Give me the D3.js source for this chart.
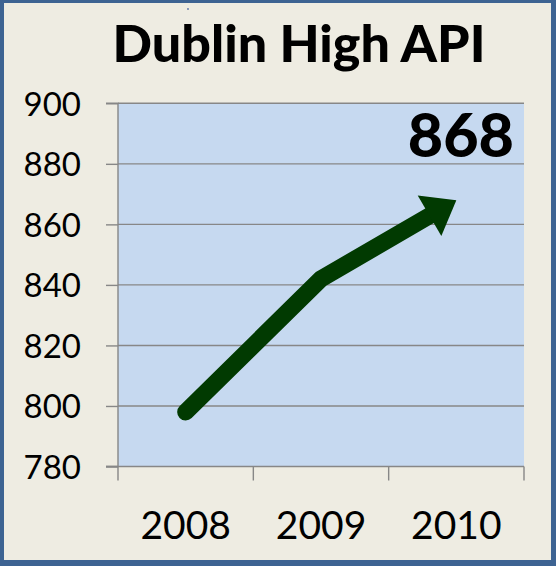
<!DOCTYPE html>
<html>
<head>
<meta charset="utf-8">
<script src="https://cdn.jsdelivr.net/npm/d3@7"></script>
<style>
  html, body { margin: 0; padding: 0; background: #ffffff; }
  svg { display: block; }
</style>
</head>
<body>
<svg id="chart" width="556" height="566"></svg>
<script>
// ---- data ----
const categories = ["2008", "2009", "2010"];
const apiValues = [798, 842, 868];
const yTicks = [780, 800, 820, 840, 860, 880, 900];
const titleText = "Dublin High API";
const calloutText = "868";

// ---- layout ----
const W = 556, H = 566;
const plot = { left: 118, right: 524, top: 103.3, bottom: 466.5 };
const font = "Lato, 'Open Sans', sans-serif";

const svg = d3.select("#chart");

// outer border + background
svg.append("rect").attr("x", 0).attr("y", 0).attr("width", W).attr("height", H).attr("fill", "#3d6392");
svg.append("rect").attr("x", 4).attr("y", 3).attr("width", 547).attr("height", 557).attr("fill", "#eeece2");
svg.append("circle").attr("cx", 188).attr("cy", 9).attr("r", 0.9).attr("fill", "#5a74a8");

// title
svg.append("text")
  .attr("x", 299).attr("y", 62)
  .attr("text-anchor", "middle")
  .attr("font-family", font).attr("font-weight", 900).attr("font-size", 52)
  .attr("fill", "#000")
  .text(titleText);

// scales
const x = d3.scaleBand().domain(categories).range([plot.left, plot.right]).padding(0);
const y = d3.scaleLinear().domain([780, 900]).range([plot.bottom, plot.top]);

// plot area
svg.append("rect")
  .attr("x", plot.left).attr("y", plot.top)
  .attr("width", plot.right - plot.left).attr("height", plot.bottom - plot.top)
  .attr("fill", "#c6d9f0");

const gridColor = "#878787";

// gridlines
svg.append("g").selectAll("line").data(yTicks.filter(v => v !== 780)).join("line")
  .attr("x1", plot.left).attr("x2", plot.right)
  .attr("y1", d => y(d)).attr("y2", d => y(d))
  .attr("stroke", gridColor).attr("stroke-width", 1.4);

// y axis
const yAxis = d3.axisLeft(y).tickValues(yTicks).tickSize(12).tickPadding(25).tickFormat(d3.format("d"));
const gy = svg.append("g").attr("transform", `translate(${plot.left},0)`).call(yAxis);
gy.select(".domain").attr("stroke", gridColor).attr("stroke-width", 1.4).attr("d", `M-12,${plot.top}H0V${plot.bottom}H-12`);
gy.selectAll(".tick line").attr("stroke", gridColor).attr("stroke-width", 1.4);
gy.selectAll(".tick text")
  .attr("font-family", font).attr("font-size", 33).attr("fill", "#000")
  .attr("dy", null).attr("y", 12).attr("x", -37);

// x axis
const xAxis = d3.axisBottom(x).tickSize(0).tickPadding(0);
const gx = svg.append("g").attr("transform", `translate(0,${plot.bottom})`).call(xAxis);
gx.select(".domain").attr("stroke", gridColor).attr("stroke-width", 1.4).attr("d", `M${plot.left - 12},0H${plot.right}`);
gx.selectAll(".tick text")
  .attr("font-family", font).attr("font-size", 39).attr("fill", "#000")
  .attr("dy", null).attr("y", 72);
// category boundary ticks
const bounds = categories.map(c => x(c)).concat([x(categories[categories.length - 1]) + x.bandwidth()]);
gx.append("g").selectAll("line").data(bounds).join("line")
  .attr("x1", d => d).attr("x2", d => d).attr("y1", 0).attr("y2", 14)
  .attr("stroke", gridColor).attr("stroke-width", 1.4);

// line with arrow
const pts = categories.map((c, i) => [x(c) + x.bandwidth() / 2, y(apiValues[i])]);
const headLen = 31, headW = 47;
const tip = pts[pts.length - 1];
const prev = pts[pts.length - 2];
const dx = tip[0] - prev[0], dy = tip[1] - prev[1];
const L = Math.hypot(dx, dy);
const ux = dx / L, uy = dy / L;
const base = [tip[0] - ux * headLen, tip[1] - uy * headLen];
const linePts = pts.slice(0, -1).concat([[tip[0] - ux * (headLen - 2), tip[1] - uy * (headLen - 2)]]);
const lineColor = "#013a01";

svg.append("path")
  .attr("d", d3.line()(linePts))
  .attr("fill", "none").attr("stroke", lineColor)
  .attr("stroke-width", 17).attr("stroke-linecap", "round").attr("stroke-linejoin", "round");

const px = -uy, py = ux;
const head = [
  tip,
  [base[0] + px * headW / 2, base[1] + py * headW / 2],
  [base[0] - px * headW / 2, base[1] - py * headW / 2]
];
svg.append("path").attr("d", d3.line()(head) + "Z").attr("fill", lineColor);

// callout value
svg.append("text")
  .attr("x", 514).attr("y", 157)
  .attr("text-anchor", "end")
  .attr("font-family", font).attr("font-weight", 900).attr("font-size", 61)
  .attr("fill", "#000")
  .text(calloutText);
</script>
</body>
</html>
